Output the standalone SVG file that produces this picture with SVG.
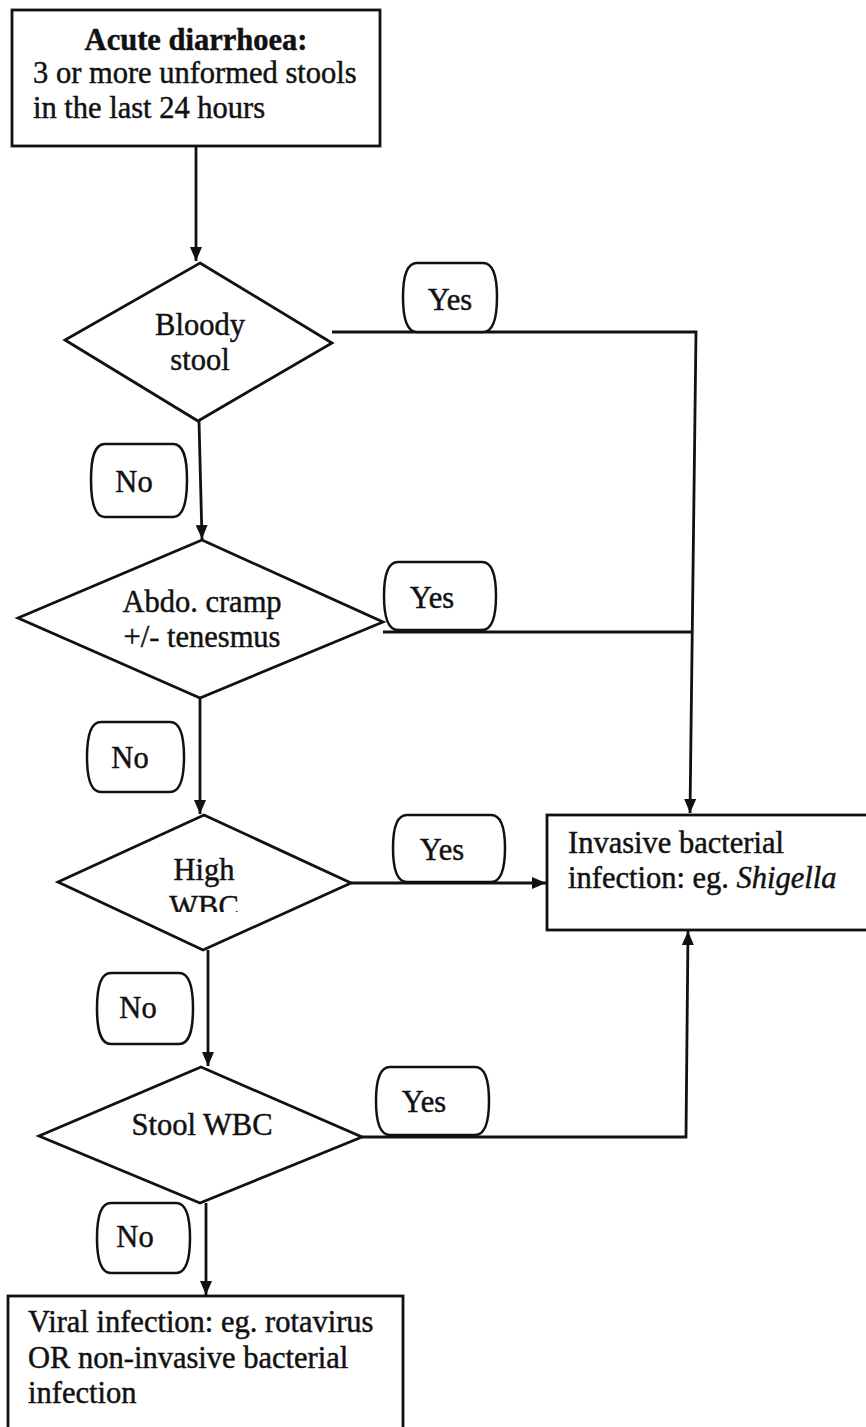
<svg xmlns="http://www.w3.org/2000/svg" width="866" height="1427" viewBox="0 0 866 1427">
<style>
text{font-family:"Liberation Serif","Times New Roman",serif;font-size:30.5px;fill:#111;stroke:#111;stroke-width:0.45}
.c{text-anchor:middle}
.b{font-weight:bold}
.shape{fill:#fff;stroke:#111;stroke-width:2.8;stroke-linejoin:miter}
.lbl{fill:#fff;stroke:#111;stroke-width:2.5}
.conn{fill:none;stroke:#111;stroke-width:2.8}
</style>
<defs>
<marker id="arr" viewBox="0 0 14 12" refX="14" refY="6" markerWidth="14" markerHeight="12" orient="auto" markerUnits="userSpaceOnUse">
<path d="M0,0 L14,6 L0,12 Z" fill="#111"/>
</marker>
<clipPath id="wbcClip"><rect x="0" y="880" width="866" height="32"/></clipPath>
</defs>
<rect width="866" height="1427" fill="#fff"/>

<g id="connectors">
<path class="conn" d="M196,146 V261" marker-end="url(#arr)"/>
<path class="conn" d="M199,421 L202,539" marker-end="url(#arr)"/>
<path class="conn" d="M200,698 L200,814" marker-end="url(#arr)"/>
<path class="conn" d="M208,950 L208,1066" marker-end="url(#arr)"/>
<path class="conn" d="M206,1203 V1295" marker-end="url(#arr)"/>
<path class="conn" d="M332,332 H696 L690,813" marker-end="url(#arr)"/>
<path class="conn" d="M383,632 H692"/>
<path class="conn" d="M351,883 H546" marker-end="url(#arr)"/>
<path class="conn" d="M362,1137 H686 L688,931" marker-end="url(#arr)"/>
</g>

<g id="start">
<rect class="shape" x="12" y="10" width="368" height="136"/>
<text class="c b" x="196" y="50">Acute diarrhoea:</text>
<text x="33" y="83">3 or more unformed stools</text>
<text x="33" y="118">in the last 24 hours</text>
</g>

<g id="d1">
<polygon class="shape" points="200,263 332,343 198,421 65,340"/>
<text class="c" x="200" y="335">Bloody</text>
<text class="c" x="200" y="370">stool</text>
</g>

<g id="d2">
<polygon class="shape" points="202,540 383,622 200,698 18,618"/>
<text class="c" x="202" y="612">Abdo. cramp</text>
<text class="c" x="202" y="647">+/- tenesmus</text>
</g>

<g id="d3">
<polygon class="shape" points="204,815 351,883 203,950 58,882"/>
<text class="c" x="204" y="880">High</text>
<text class="c" x="204" y="917" clip-path="url(#wbcClip)">WBC</text>
</g>

<g id="d4">
<polygon class="shape" points="201,1067 362,1137 200,1203 39,1136"/>
<text class="c" x="202" y="1135">Stool WBC</text>
</g>

<g id="invasive">
<rect class="shape" x="547" y="815" width="330" height="115"/>
<text x="568" y="853">Invasive bacterial</text>
<text x="568" y="888">infection: eg. <tspan font-style="italic">Shigella</tspan></text>
</g>

<g id="viral">
<rect class="shape" x="8" y="1296" width="395" height="140"/>
<text x="28" y="1332">Viral infection: eg. rotavirus</text>
<text x="28" y="1368">OR non-invasive bacterial</text>
<text x="28" y="1403">infection</text>
</g>

<g id="yes1">
<path class="lbl" d="M417,263 H483 C493,263 497,275 497,297 C497,319 493,332 483,332 H417 C407,332 403,319 403,297 C403,275 407,263 417,263 Z"/>
<text class="c" x="450" y="310">Yes</text>
</g>
<g id="no1">
<path class="lbl" d="M105,444 H173 C183,444 187,456 187,480 C187,504 183,517 173,517 H105 C95,517 91,504 91,480 C91,456 95,444 105,444 Z"/>
<text class="c" x="134" y="492">No</text>
</g>
<g id="yes2">
<path class="lbl" d="M398,562 H482 C492,562 496,574 496,596 C496,618 492,630 482,630 H398 C388,630 384,618 384,596 C384,574 388,562 398,562 Z"/>
<text class="c" x="432" y="608">Yes</text>
</g>
<g id="no2">
<path class="lbl" d="M101,722 H170 C180,722 184,734 184,757 C184,780 180,792 170,792 H101 C91,792 87,780 87,757 C87,734 91,722 101,722 Z"/>
<text class="c" x="130" y="768">No</text>
</g>
<g id="yes3">
<path class="lbl" d="M407,815 H491 C501,815 505,827 505,848 C505,870 501,882 491,882 H407 C397,882 393,870 393,848 C393,827 397,815 407,815 Z"/>
<text class="c" x="442" y="860">Yes</text>
</g>
<g id="no3">
<path class="lbl" d="M111,973 H179 C189,973 193,985 193,1008 C193,1032 189,1044 179,1044 H111 C101,1044 97,1032 97,1008 C97,985 101,973 111,973 Z"/>
<text class="c" x="138" y="1018">No</text>
</g>
<g id="yes4">
<path class="lbl" d="M390,1067 H475 C485,1067 489,1079 489,1101 C489,1123 485,1135 475,1135 H390 C380,1135 376,1123 376,1101 C376,1079 380,1067 390,1067 Z"/>
<text class="c" x="424" y="1112">Yes</text>
</g>
<g id="no4">
<path class="lbl" d="M111,1203 H176 C186,1203 190,1215 190,1238 C190,1261 186,1273 176,1273 H111 C101,1273 97,1261 97,1238 C97,1215 101,1203 111,1203 Z"/>
<text class="c" x="135" y="1247">No</text>
</g>
</svg>
